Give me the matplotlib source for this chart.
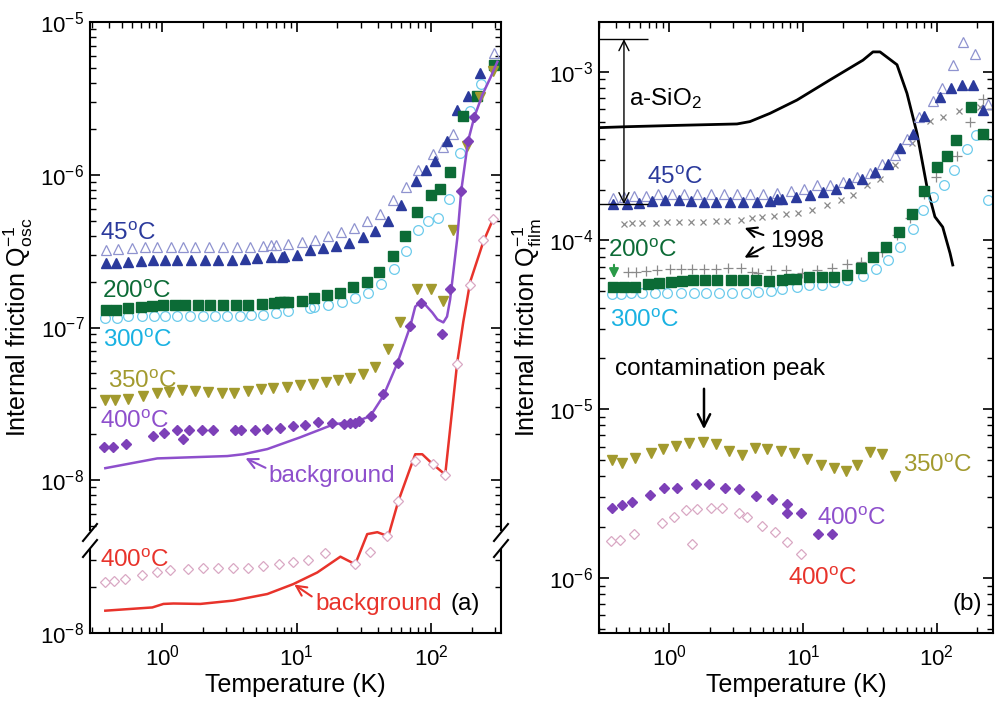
import matplotlib
matplotlib.use('Agg')
import matplotlib.pyplot as plt
from matplotlib.ticker import FixedLocator, FixedFormatter, LogLocator, NullFormatter
from matplotlib.lines import Line2D
from matplotlib.patches import Rectangle

plt.rcParams['font.family'] = ['Liberation Sans', 'DejaVu Sans']
plt.rcParams['mathtext.fontset'] = 'custom'
plt.rcParams['mathtext.rm'] = 'Liberation Sans'
plt.rcParams['mathtext.it'] = 'Liberation Sans:italic'
plt.rcParams['mathtext.bf'] = 'Liberation Sans:bold'

# ---------------- panel (a): oscillator Q^-1 ----------------
t45f_a = [0.38, 0.45, 0.56, 0.69, 0.86, 1.05, 1.29, 1.64, 2.09, 2.61, 3.31, 4.14, 5.08, 6.46, 7.8, 8.1,
          10.1, 12.6, 15.7, 19.7, 24.5, 31.2, 38.4, 47.9, 59.8, 77.3, 91.8, 107, 132, 156, 188, 231]
q45f_a = [2.65e-7, 2.65e-7, 2.69e-7, 2.74e-7, 2.77e-7, 2.77e-7, 2.77e-7, 2.77e-7, 2.77e-7, 2.77e-7, 2.77e-7,
          2.79e-7, 2.84e-7, 2.88e-7, 2.91e-7, 2.96e-7, 3.00e-7, 3.20e-7, 3.30e-7, 3.40e-7, 3.56e-7, 3.92e-7,
          4.31e-7, 4.98e-7, 6.37e-7, 9.04e-7, 1.07e-6, 1.23e-6, 1.66e-6, 2.66e-6, 3.30e-6, 4.62e-6]
t45o_a = [0.384, 0.471, 0.598, 0.748, 0.918, 1.17, 1.43, 1.76, 2.24, 2.84, 3.61, 4.51, 5.64, 6.46, 7.04, 8.65,
          11.0, 13.7, 17.2, 21.4, 26.8, 33.4, 41.8, 52.2, 65.2, 80.0, 103, 123, 146, 294]
q45o_a = [3.24e-7, 3.27e-7, 3.30e-7, 3.35e-7, 3.35e-7, 3.38e-7, 3.38e-7, 3.38e-7, 3.38e-7, 3.38e-7, 3.38e-7,
          3.38e-7, 3.42e-7, 3.45e-7, 3.45e-7, 3.52e-7, 3.63e-7, 3.76e-7, 3.97e-7, 4.22e-7, 4.50e-7, 5.00e-7,
          5.53e-7, 6.84e-7, 8.32e-7, 1.07e-6, 1.37e-6, 1.52e-6, 1.85e-6, 6.22e-6]
t200_a = [0.384, 0.455, 0.559, 0.698, 0.843, 1.02, 1.25, 1.48, 1.85, 2.27, 2.84, 3.55, 4.36, 5.54, 6.80, 7.54,
          8.07, 8.65, 11.0, 13.5, 16.9, 21.1, 26.3, 33.4, 41.1, 52.2, 64.1, 78.7, 100, 117, 138, 173, 220, 294]
q200_a = [1.31e-7, 1.31e-7, 1.34e-7, 1.36e-7, 1.39e-7, 1.41e-7, 1.41e-7, 1.41e-7, 1.41e-7, 1.41e-7, 1.41e-7,
          1.41e-7, 1.41e-7, 1.43e-7, 1.44e-7, 1.46e-7, 1.47e-7, 1.47e-7, 1.50e-7, 1.57e-7, 1.64e-7, 1.69e-7,
          1.85e-7, 2.00e-7, 2.32e-7, 2.96e-7, 3.99e-7, 5.73e-7, 7.40e-7, 8.10e-7, 1.05e-6, 2.43e-6, 3.28e-6, 5.23e-6]
t300_a = [0.377, 0.463, 0.559, 0.710, 0.872, 1.05, 1.29, 1.62, 2.02, 2.48, 3.04, 3.80, 4.59, 5.64, 7.04, 8.65,
          12.5, 13.5, 17.2, 21.8, 27.2, 34.0, 42.5, 53.1, 65.2, 80.0, 95.0, 113, 136, 164, 195, 235]
q300_a = [1.16e-7, 1.16e-7, 1.19e-7, 1.19e-7, 1.19e-7, 1.19e-7, 1.19e-7, 1.19e-7, 1.19e-7, 1.19e-7, 1.19e-7,
          1.19e-7, 1.20e-7, 1.21e-7, 1.24e-7, 1.28e-7, 1.35e-7, 1.37e-7, 1.41e-7, 1.46e-7, 1.55e-7, 1.69e-7,
          1.94e-7, 2.43e-7, 3.19e-7, 4.37e-7, 5.00e-7, 5.23e-7, 6.97e-7, 1.39e-6, 2.62e-6, 3.94e-6]
t350_a = [0.377, 0.448, 0.559, 0.722, 0.918, 1.13, 1.41, 1.76, 2.20, 2.79, 3.43, 4.36, 5.45, 6.69, 8.50, 10.6,
          13.3, 16.6, 20.3, 25.0, 31.2, 38.4, 47.9, 58.9, 78.7, 100, 123, 146, 185, 231, 289]
q350_a = [3.35e-8, 3.35e-8, 3.42e-8, 3.54e-8, 3.71e-8, 3.76e-8, 3.87e-8, 3.82e-8, 3.76e-8, 3.71e-8, 3.71e-8,
          3.82e-8, 3.94e-8, 3.99e-8, 4.05e-8, 4.18e-8, 4.24e-8, 4.37e-8, 4.51e-8, 4.65e-8, 4.93e-8, 5.48e-8,
          7.18e-8, 1.09e-7, 1.80e-7, 1.80e-7, 1.50e-7, 4.37e-7, 1.55e-6, 3.24e-6, 4.79e-6]
t400_a = [0.371, 0.432, 0.540, 0.857, 1.03, 1.29, 1.43, 1.59, 1.98, 2.39, 3.49, 3.87, 4.91, 6.04, 7.54, 9.42,
          11.6, 14.5, 18.4, 22.5, 25.0, 27.2, 29.2, 35.8, 44.0, 56.9, 69.8, 84.3, 121, 138, 167, 188, 209]
q400_a = [1.65e-8, 1.65e-8, 1.74e-8, 1.95e-8, 2.05e-8, 2.12e-8, 1.85e-8, 2.12e-8, 2.12e-8, 2.12e-8, 2.12e-8,
          2.12e-8, 2.12e-8, 2.15e-8, 2.21e-8, 2.26e-8, 2.29e-8, 2.40e-8, 2.36e-8, 2.32e-8, 2.36e-8, 2.38e-8,
          2.43e-8, 2.63e-8, 3.65e-8, 5.88e-8, 1.02e-7, 1.44e-7, 9.0e-8, 1.80e-7, 7.85e-7, 1.67e-6, 2.39e-6]
t_bg400_a = [0.377, 0.918, 3.04, 4.00, 6.04, 10.6, 15.0, 18.7, 28.2, 35.2, 44.0, 55.9, 69.8, 76.0, 82.8, 90.2,
             102, 111, 123, 131, 138, 156, 167, 188, 209, 240, 275, 310]
q_bg400_a = [1.20e-8, 1.39e-8, 1.44e-8, 1.48e-8, 1.60e-8, 1.91e-8, 2.15e-8, 2.32e-8, 2.44e-8, 2.63e-8, 3.56e-8,
             5.82e-8, 1.02e-7, 1.37e-7, 1.46e-7, 1.41e-7, 1.25e-7, 1.13e-7, 1.08e-7, 1.18e-7, 1.52e-7, 3.82e-7,
             7.85e-7, 1.67e-6, 2.39e-6, 3.34e-6, 4.31e-6, 5.49e-6]
# second 400C sample, drawn one decade lower (bottom part of the broken axis)
t400r_a = [0.377, 0.440, 0.531, 0.710, 0.918, 1.15, 1.56, 2.02, 2.61, 3.37, 4.36, 5.64, 7.41, 9.42, 12.2, 16.3,
           27.2, 35.2, 47.1, 56.9, 76.0, 103, 127, 156, 195, 244, 289]
q400r_a = [2.16e-8, 2.20e-8, 2.25e-8, 2.40e-8, 2.52e-8, 2.59e-8, 2.62e-8, 2.65e-8, 2.65e-8, 2.65e-8, 2.65e-8,
           2.73e-8, 2.82e-8, 2.92e-8, 3.01e-8, 3.32e-8, 2.82e-8, 3.38e-8, 4.30e-8, 7.30e-8, 1.33e-7, 1.27e-7,
           1.09e-7, 5.73e-7, 1.91e-6, 3.76e-6, 5.15e-6]
t_bgred_a = [0.377, 0.843, 1.02, 1.21, 1.92, 3.37, 6.04, 9.42, 14.2, 21.1, 27.2, 33.4, 39.7, 47.9, 56.9, 76.0,
             85.7, 103, 127, 156, 173, 195, 244, 289]
q_bgred_a = [1.40e-8, 1.47e-8, 1.55e-8, 1.56e-8, 1.55e-8, 1.63e-8, 1.80e-8, 2.09e-8, 2.49e-8, 3.16e-8, 2.82e-8,
             4.44e-8, 4.57e-8, 4.30e-8, 7.30e-8, 1.48e-7, 1.48e-7, 1.27e-7, 1.09e-7, 5.90e-7, 1.09e-6, 2.00e-6,
             3.65e-6, 5.15e-6]
LOWER_SHIFT = 0.1

# ---------------- panel (b): film Q^-1 ----------------
t_sio2 = [0.30, 0.483, 1.20, 3.21, 4.01, 5.66, 9.02, 15.9, 28.1, 33.4, 37.7, 50.5, 60.0, 71.3, 84.6, 97.1, 111, 126, 132]
q_sio2 = [4.66e-4, 4.72e-4, 4.81e-4, 4.90e-4, 5.06e-4, 5.66e-4, 6.79e-4, 8.93e-4, 1.17e-3, 1.31e-3, 1.31e-3,
          1.10e-3, 7.44e-4, 4.31e-4, 2.08e-4, 1.38e-4, 1.20e-4, 8.39e-5, 7.15e-5]
t45f_b = [0.379, 0.483, 0.593, 0.743, 0.929, 1.18, 1.45, 1.82, 2.24, 2.84, 3.56, 4.53, 5.67, 6.40, 6.97, 8.87,
          11.3, 14.1, 17.6, 22.1, 27.6, 34.5, 43.2, 53.1, 66.4, 80.2, 106, 128, 155, 187, 222]
q45f_b = [1.64e-4, 1.64e-4, 1.66e-4, 1.71e-4, 1.73e-4, 1.73e-4, 1.72e-4, 1.70e-4, 1.70e-4, 1.70e-4, 1.70e-4,
          1.70e-4, 1.72e-4, 1.76e-4, 1.76e-4, 1.80e-4, 1.85e-4, 1.94e-4, 2.03e-4, 2.18e-4, 2.32e-4, 2.54e-4,
          2.85e-4, 3.53e-4, 4.28e-4, 5.44e-4, 7.08e-4, 8.00e-4, 8.30e-4, 8.30e-4, 5.96e-4]
t45o_b = [0.379, 0.458, 0.545, 0.669, 0.823, 1.05, 1.29, 1.61, 2.05, 2.57, 3.21, 4.01, 5.02, 6.40, 8.13, 10.2,
          12.7, 15.9, 19.9, 25.3, 31.7, 38.9, 48.7, 59.8, 73.6, 93.6, 109, 132, 157, 193, 242]
q45o_b = [1.78e-4, 1.82e-4, 1.83e-4, 1.84e-4, 1.88e-4, 1.88e-4, 1.88e-4, 1.88e-4, 1.88e-4, 1.88e-4, 1.88e-4,
          1.88e-4, 1.88e-4, 1.92e-4, 1.97e-4, 2.02e-4, 2.12e-4, 2.13e-4, 2.22e-4, 2.38e-4, 2.51e-4, 2.85e-4,
          3.19e-4, 4.01e-4, 5.38e-4, 6.68e-4, 8.00e-4, 1.10e-3, 1.50e-3, 1.27e-3, 6.46e-4]
t1998x = [0.458, 0.526, 0.625, 0.796, 0.961, 1.18, 1.45, 1.79, 2.24, 2.70, 3.43, 4.15, 4.94, 6.07, 7.46, 9.18,
          11.7, 15.1, 19.2, 23.6, 30.1, 37.7, 48.7, 65.3, 89.0, 111, 147, 211]
q1998x = [1.25e-4, 1.27e-4, 1.27e-4, 1.27e-4, 1.28e-4, 1.28e-4, 1.28e-4, 1.28e-4, 1.30e-4, 1.31e-4, 1.33e-4,
          1.35e-4, 1.37e-4, 1.40e-4, 1.43e-4, 1.46e-4, 1.52e-4, 1.62e-4, 1.74e-4, 1.87e-4, 2.12e-4, 2.30e-4,
          2.81e-4, 3.78e-4, 5.08e-4, 5.38e-4, 5.84e-4, 6.18e-4]
t200_b = [0.379, 0.458, 0.553, 0.693, 0.837, 1.03, 1.24, 1.50, 1.85, 2.27, 2.89, 3.56, 4.45, 5.57, 6.97, 7.86,
          8.87, 11.1, 13.9, 17.1, 21.3, 27.1, 33.4, 41.8, 52.2, 65.3, 80.2, 100, 119, 139, 180, 222]
q200_b = [5.27e-5, 5.27e-5, 5.32e-5, 5.52e-5, 5.62e-5, 5.69e-5, 5.77e-5, 5.82e-5, 5.82e-5, 5.82e-5, 5.82e-5,
          5.82e-5, 5.82e-5, 5.77e-5, 5.82e-5, 5.88e-5, 5.90e-5, 6.03e-5, 6.03e-5, 6.07e-5, 6.24e-5, 6.86e-5,
          7.97e-5, 9.14e-5, 1.12e-4, 1.44e-4, 1.96e-4, 2.72e-4, 3.16e-4, 3.95e-4, 6.18e-4, 4.29e-4]
t1998p = [0.491, 0.564, 0.669, 0.809, 1.01, 1.22, 1.48, 1.82, 2.24, 2.75, 3.43, 4.15, 4.61, 5.76, 7.46, 9.84,
          12.7, 16.5, 21.3, 27.1, 39.0, 50.5, 63.1, 80.3, 98.8, 142, 178, 222]
q1998p = [6.52e-5, 6.52e-5, 6.61e-5, 6.68e-5, 6.75e-5, 6.75e-5, 6.77e-5, 6.77e-5, 6.77e-5, 6.84e-5, 6.84e-5,
          6.52e-5, 6.38e-5, 6.68e-5, 6.68e-5, 6.44e-5, 6.64e-5, 6.82e-5, 7.24e-5, 7.44e-5, 8.53e-5, 1.08e-4,
          1.35e-4, 1.89e-4, 2.38e-4, 3.16e-4, 5.04e-4, 6.92e-4]
t300_b = [0.373, 0.435, 0.517, 0.625, 0.782, 0.961, 1.22, 1.53, 1.88, 2.35, 2.94, 3.75, 4.61, 5.76, 6.97, 9.02,
          11.1, 13.9, 17.1, 21.3, 28.1, 35.2, 43.3, 53.1, 66.4, 78.9, 93.8, 113, 135, 168, 197, 242]
q300_b = [4.81e-5, 4.81e-5, 4.86e-5, 4.90e-5, 4.90e-5, 4.90e-5, 4.90e-5, 4.90e-5, 4.90e-5, 4.90e-5, 4.90e-5,
          4.90e-5, 4.97e-5, 5.04e-5, 5.13e-5, 5.27e-5, 5.42e-5, 5.44e-5, 5.65e-5, 5.82e-5, 6.15e-5, 6.79e-5,
          7.62e-5, 9.14e-5, 1.17e-4, 1.51e-4, 1.81e-4, 2.12e-4, 2.61e-4, 3.50e-4, 4.20e-4, 1.73e-4]
t350_b = [0.373, 0.443, 0.553, 0.730, 0.897, 1.12, 1.40, 1.79, 2.24, 2.80, 3.50, 4.37, 5.38, 6.85, 8.57, 10.7,
          13.6, 17.1, 21.0, 25.3, 31.7, 38.9, 48.7]
q350_b = [4.99e-6, 4.77e-6, 5.11e-6, 5.52e-6, 5.78e-6, 6.04e-6, 6.32e-6, 6.41e-6, 6.21e-6, 5.67e-6, 5.34e-6,
          5.86e-6, 5.78e-6, 5.67e-6, 5.52e-6, 5.04e-6, 4.66e-6, 4.46e-6, 4.30e-6, 4.66e-6, 5.59e-6, 5.42e-6, 4.01e-6]
t400_b = [0.373, 0.443, 0.526, 0.718, 0.912, 1.14, 1.58, 1.98, 2.61, 3.32, 4.45, 5.86, 7.59, 7.59, 9.66, 12.9, 16.5]
q400_b = [2.58e-6, 2.70e-6, 2.83e-6, 3.10e-6, 3.40e-6, 3.42e-6, 3.60e-6, 3.60e-6, 3.40e-6, 3.35e-6, 3.07e-6,
          2.92e-6, 2.74e-6, 2.43e-6, 2.43e-6, 1.82e-6, 1.81e-6]
t400r_b = [0.366, 0.428, 0.545, 0.882, 1.08, 1.33, 1.48, 1.61, 2.05, 2.48, 3.32, 3.81, 4.94, 6.18, 7.59, 9.66]
q400r_b = [1.66e-6, 1.68e-6, 1.82e-6, 2.11e-6, 2.30e-6, 2.52e-6, 1.58e-6, 2.55e-6, 2.58e-6, 2.60e-6, 2.41e-6,
           2.28e-6, 2.04e-6, 1.86e-6, 1.62e-6, 1.38e-6]

# a-SiO2 peak level and film plateau level marked with the double arrow
sio2_level = 1.56e-3
film_level = 1.64e-4

BLUE = '#2b3a9c'
LAV = '#8f93cf'
GREEN = '#0c6b36'
CYAN = '#6ccbec'
OLIVE = '#a29a2e'
PURPLE = '#7d40b8'
PURPLE_L = '#8e4fcc'
RED = '#e8332b'
PINK = '#d9a8c4'
GREY = '#8a8a8a'

W, H = 997, 704
fig = plt.figure(figsize=(W / 100, H / 100), dpi=100)


def rect(x0, y0, x1, y1):
    return [x0 / W, 1 - y1 / H, (x1 - x0) / W, (y1 - y0) / H]


def fpx(px, py):
    return px / W, 1 - py / H


def style(ax):
    ax.set_xscale('log')
    ax.set_yscale('log')
    ax.tick_params(which='both', direction='in', top=True, right=True, labelsize=16)
    ax.tick_params(which='major', length=7, width=1.2)
    ax.tick_params(which='minor', length=4, width=1.0)
    ax.tick_params(axis='x', which='major', pad=8)
    ax.tick_params(axis='y', which='major', pad=4)
    ax.xaxis.set_minor_formatter(NullFormatter())
    for s in ax.spines.values():
        s.set_linewidth(1.5)


ax_a = fig.add_axes(rect(90, 22, 501, 633))
ax_b = fig.add_axes(rect(599, 22, 993, 633))
style(ax_a)
style(ax_b)

# ---- panel (a)
ax_a.plot(t45o_a, q45o_a, '^', ms=7.5, mfc='none', mec=LAV, mew=0.9, ls='none')
ax_a.plot(t45f_a, q45f_a, '^', ms=7.5, color=BLUE, ls='none')
ax_a.plot(t300_a, q300_a, 'o', ms=7, mfc='none', mec=CYAN, mew=0.9, ls='none')
ax_a.plot(t200_a, q200_a, 's', ms=6.5, color=GREEN, ls='none')
ax_a.plot(t350_a, q350_a, 'v', ms=7, color=OLIVE, ls='none')
ax_a.plot(t_bg400_a, q_bg400_a, '-', color=PURPLE_L, lw=1.8)
ax_a.plot(t400_a, q400_a, 'D', ms=4.6, color=PURPLE, ls='none')
ax_a.plot(t_bgred_a, [q * LOWER_SHIFT for q in q_bgred_a], '-', color=RED, lw=1.8)
ax_a.plot(t400r_a, [q * LOWER_SHIFT for q in q400r_a], 'D', ms=4.6, mfc='white', mec=PINK, mew=0.9, ls='none')

ax_a.set_xlim(0.29, 330)
ax_a.set_ylim(1e-9, 1e-5)
ax_a.yaxis.set_major_locator(FixedLocator([1e-9, 1e-8, 1e-7, 1e-6, 1e-5]))
ax_a.yaxis.set_major_formatter(FixedFormatter(['$10^{-8}$', '$10^{-8}$', '$10^{-7}$', '$10^{-6}$', '$10^{-5}$']))
minors = [m * 10.0 ** e for e in range(-9, -5) for m in range(2, 10)]
minors = [v for v in minors if not (3.5e-9 < v < 4.8e-9)]
ax_a.yaxis.set_minor_locator(FixedLocator(minors))
ax_a.yaxis.set_minor_formatter(NullFormatter())
ax_a.set_xlabel('Temperature (K)', fontsize=18, labelpad=2)
ax_a.set_ylabel(r'Internal friction Q$^{-1}_{\mathrm{osc}}$', fontsize=18, labelpad=4)

# axis break marks
for xs in (90, 501):
    fig.add_artist(Rectangle(fpx(xs - 4, 549), 8 / W, 18 / H, transform=fig.transFigure,
                             facecolor='white', edgecolor='none', zorder=5))
    for dy in (0, 16):
        fig.add_artist(Line2D([(xs - 7) / W, (xs + 7) / W], [1 - (541 + dy) / H, 1 - (524 + dy) / H],
                              transform=fig.transFigure, color='black', lw=1.5, zorder=6))

fs = 17.5
deg = r'$^{\mathrm{o}}$C'
fig.text(*fpx(100, 240), '45' + deg, color=BLUE, fontsize=fs)
fig.text(*fpx(102, 298), '200' + deg, color=GREEN, fontsize=fs)
fig.text(*fpx(103, 347), '300' + deg, color='#1ab2e2', fontsize=fs)
fig.text(*fpx(108, 388), '350' + deg, color=OLIVE, fontsize=fs)
fig.text(*fpx(100, 428), '400' + deg, color=PURPLE_L, fontsize=fs)
fig.text(*fpx(268, 482), 'background', color=PURPLE_L, fontsize=fs)
fig.text(*fpx(100, 567), '400' + deg, color=RED, fontsize=fs)
fig.text(*fpx(315, 610), 'background', color=RED, fontsize=fs)
fig.text(*fpx(450, 610), '(a)', color='black', fontsize=fs)

arrow_kw = dict(arrowstyle='->', lw=1.5, mutation_scale=18)
ax_a.annotate('', xy=(243, H - 457), xytext=(268, H - 469), xycoords='figure pixels',
              arrowprops=dict(color=PURPLE_L, **arrow_kw))
ax_a.annotate('', xy=(292, H - 583), xytext=(314, H - 598), xycoords='figure pixels',
              arrowprops=dict(color=RED, **arrow_kw))

# ---- panel (b)
ax_b.plot(t_sio2, q_sio2, '-', color='black', lw=2)
ax_b.plot(t1998x, q1998x, 'x', ms=5, color=GREY, mew=0.9, ls='none')
ax_b.plot(t1998p, q1998p, '+', ms=7, color=GREY, mew=0.9, ls='none')
ax_b.plot(t45o_b, q45o_b, '^', ms=7.5, mfc='none', mec=LAV, mew=0.9, ls='none')
ax_b.plot(t45f_b, q45f_b, '^', ms=7.5, color=BLUE, ls='none')
ax_b.plot(t300_b, q300_b, 'o', ms=7, mfc='none', mec=CYAN, mew=0.9, ls='none')
ax_b.plot(t200_b, q200_b, 's', ms=6.5, color=GREEN, ls='none')
ax_b.plot(t350_b, q350_b, 'v', ms=7, color=OLIVE, ls='none')
ax_b.plot(t400r_b, q400r_b, 'D', ms=5, mfc='white', mec=PINK, mew=0.9, ls='none')
ax_b.plot(t400_b, q400_b, 'D', ms=5, color=PURPLE, ls='none')

ax_b.set_xlim(0.298, 264)
ax_b.set_ylim(4.71e-7, 1.97e-3)
ax_b.yaxis.set_major_locator(LogLocator(base=10, numticks=10))
ax_b.yaxis.set_minor_locator(LogLocator(base=10, subs=range(2, 10), numticks=20))
ax_b.yaxis.set_minor_formatter(NullFormatter())
ax_b.set_xlabel('Temperature (K)', fontsize=18, labelpad=2)
ax_b.set_ylabel(r'Internal friction Q$^{-1}_{\mathrm{film}}$', fontsize=18, labelpad=4)

ax_b.hlines([sio2_level, film_level], 0.298, 0.693, color='black', lw=1.0)
ax_b.annotate('', xy=(0.458, film_level), xytext=(0.458, sio2_level),
              arrowprops=dict(arrowstyle='<->', color='black', lw=1.0, mutation_scale=18, shrinkA=0, shrinkB=0))

fig.text(*fpx(629, 105), r'a-SiO$_2$', color='black', fontsize=fs)
fig.text(*fpx(647, 184), '45' + deg, color=BLUE, fontsize=fs)
fig.text(*fpx(770, 247), '1998', color='black', fontsize=fs)
fig.text(*fpx(608, 257), '200' + deg, color=GREEN, fontsize=fs)
fig.text(*fpx(610, 327), '300' + deg, color='#1ab2e2', fontsize=fs)
fig.text(*fpx(615, 375), 'contamination peak', color='black', fontsize=fs)
fig.text(*fpx(903, 472), '350' + deg, color=OLIVE, fontsize=fs)
fig.text(*fpx(817, 525), '400' + deg, color=PURPLE_L, fontsize=fs)
fig.text(*fpx(788, 585), '400' + deg, color=RED, fontsize=fs)
fig.text(*fpx(952, 610), '(b)', color='black', fontsize=fs)

ax_b.annotate('', xy=(742, H - 227), xytext=(766, H - 236), xycoords='figure pixels',
              arrowprops=dict(color='black', **arrow_kw))
ax_b.annotate('', xy=(742, H - 259), xytext=(766, H - 246), xycoords='figure pixels',
              arrowprops=dict(color='black', **arrow_kw))
ax_b.annotate('', xy=(704, H - 432), xytext=(704, H - 386), xycoords='figure pixels',
              arrowprops=dict(arrowstyle='->', color='black', lw=1.8, mutation_scale=22))
ax_b.annotate('', xy=(614, H - 281), xytext=(614, H - 262), xycoords='figure pixels',
              arrowprops=dict(arrowstyle='-|>', color='#2a9a48', lw=1.5, mutation_scale=14))

fig.savefig('out.png', dpi=100)
